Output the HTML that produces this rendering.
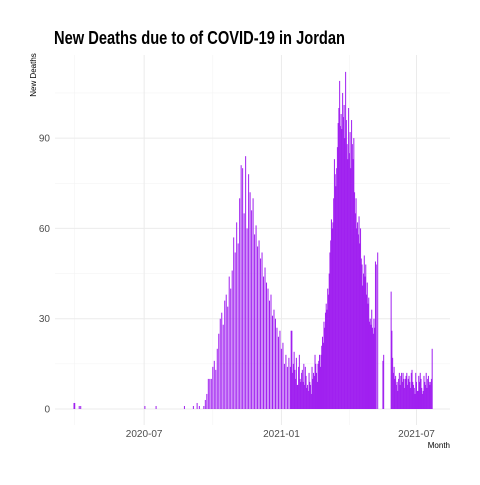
<!DOCTYPE html>
<html><head><meta charset="utf-8"><style>
body{margin:0;background:#fff;}
svg text{font-family:"Liberation Sans Narrow","Liberation Sans",sans-serif;}
</style></head><body>
<svg id="chart" width="480" height="480" xmlns="http://www.w3.org/2000/svg">
<rect width="480" height="480" fill="#fff"/>
<text x="54" y="44" font-size="18" font-weight="bold" fill="#000" textLength="291" lengthAdjust="spacingAndGlyphs">New Deaths due to of COVID-19 in Jordan</text>
<text transform="translate(36,75) rotate(-90)" text-anchor="middle" font-size="8" fill="#000">New Deaths</text>
<text x="450" y="448" text-anchor="end" font-size="8" fill="#000">Month</text>
<g id="grid"></g><g id="bars"></g><g id="ticks"></g>
</svg>
<script>
const earlyDays=[0,1,7,9,95,110,148,160,165,168];
const earlyVals=[2,2,1,1,1,1,1,1,2,1];
const waveStart=170;
const waveVals=[0,0,0,0,1,0,3,0,5,0,10,0,10,0,10,0,14,0,16,0,13,0,20,0,25,0,30,0,32,0,28,0,36,0,38,0,34,0,44,0,40,0,46,0,57,0,52,0,62,0,55,0,70,0,81,0,80,0,65,0,84,0,
60,0,78,0,72,0,66,0,70,0,58,0,61,0,54,0,56,0,50,0,52,0,44,0,47,0,42,0,40,0,36,0,38,0,31,0,33,0,30,0,27,0,24,0,26,0,20,0,22,0,15,0,18,0,14,0,17,0,
14,26,26,12,15,19,13,10,17,8,8,14,18,10,9,12,13,9,15,8,14,11,7,8,6,12,9,8,5,14,10,12,11,18,15,12,9,15,16,18,
14,18,21,24,22,29,27,32,35,33,40,38,45,52,
56,63,60,62,70,83,78,74,80,87,95,100,109,94,
98,93,105,97,101,90,112,96,88,83,100,85,
92,80,96,88,83,90,72,65,70,60,62,58,64,55,
60,50,48,41,45,51,44,48,38,42,35,37,29,30,28,33,
27,25,30,27,49,48,0,52,0,0,0,0,0,0,16,18,0,
0,0,0,0,0,0,0,0,39,
26,17,12,14,10,11,8,9,6,10,12,8,11,12,9,12,10,7,10,11,12,8,10,11,9,7,12,13,9,8,7,5,12,9,6,6,11,9,12,10,7,5,6,11,9,8,12,7,10,11,9,8,9,10,20];
const yTicks=[0,30,60,90];
const yMinor=[15,45,75,105];
const xTickLabels=["2020-07","2021-01","2021-07"];
const xTickDays=[94,278,459];
const xMinorDays=[1,186,369];

const NS="http://www.w3.org/2000/svg";
const L=55,R=450,T=55,B=425;
function xs(d){return 74+d*0.7462;}
function ys(v){return 409-v*3.01;}
function mk(tag,attrs,parent){const e=document.createElementNS(NS,tag);for(const k in attrs)e.setAttribute(k,attrs[k]);parent.appendChild(e);return e;}
const grid=document.getElementById('grid'),bars=document.getElementById('bars'),ticks=document.getElementById('ticks');
yMinor.forEach(v=>{const l=mk('line',{x1:L,x2:R,y1:ys(v),y2:ys(v),stroke:'#f2f2f2','stroke-width':0.5},grid);

});
xMinorDays.forEach(d=>{const l=mk('line',{x1:xs(d),x2:xs(d),y1:T,y2:B,stroke:'#f2f2f2','stroke-width':0.5},grid);

});
yTicks.forEach(v=>{const l=mk('line',{x1:L,x2:R,y1:ys(v),y2:ys(v),stroke:'#ebebeb','stroke-width':1},grid);


const t=mk('text',{x:50,y:ys(v)+3.5,'text-anchor':'end','font-size':10,fill:'#4d4d4d'},ticks);t.textContent=v;

});
xTickDays.forEach((d,i)=>{const l=mk('line',{x1:xs(d),x2:xs(d),y1:T,y2:B,stroke:'#ebebeb','stroke-width':1},grid);


const t=mk('text',{x:xs(d),y:437,'text-anchor':'middle','font-size':10,fill:'#4d4d4d'},ticks);t.textContent=xTickLabels[i];

});
function bar(d,v){if(v<=0)return;const r=mk('rect',{x:xs(d)-0.5,width:1.0,y:ys(v),height:ys(0)-ys(v),fill:'#a020f0'},bars);

}
earlyDays.forEach((d,i)=>bar(d,earlyVals[i]));
waveVals.forEach((v,i)=>bar(waveStart+i,v));
</script>
</body></html>
